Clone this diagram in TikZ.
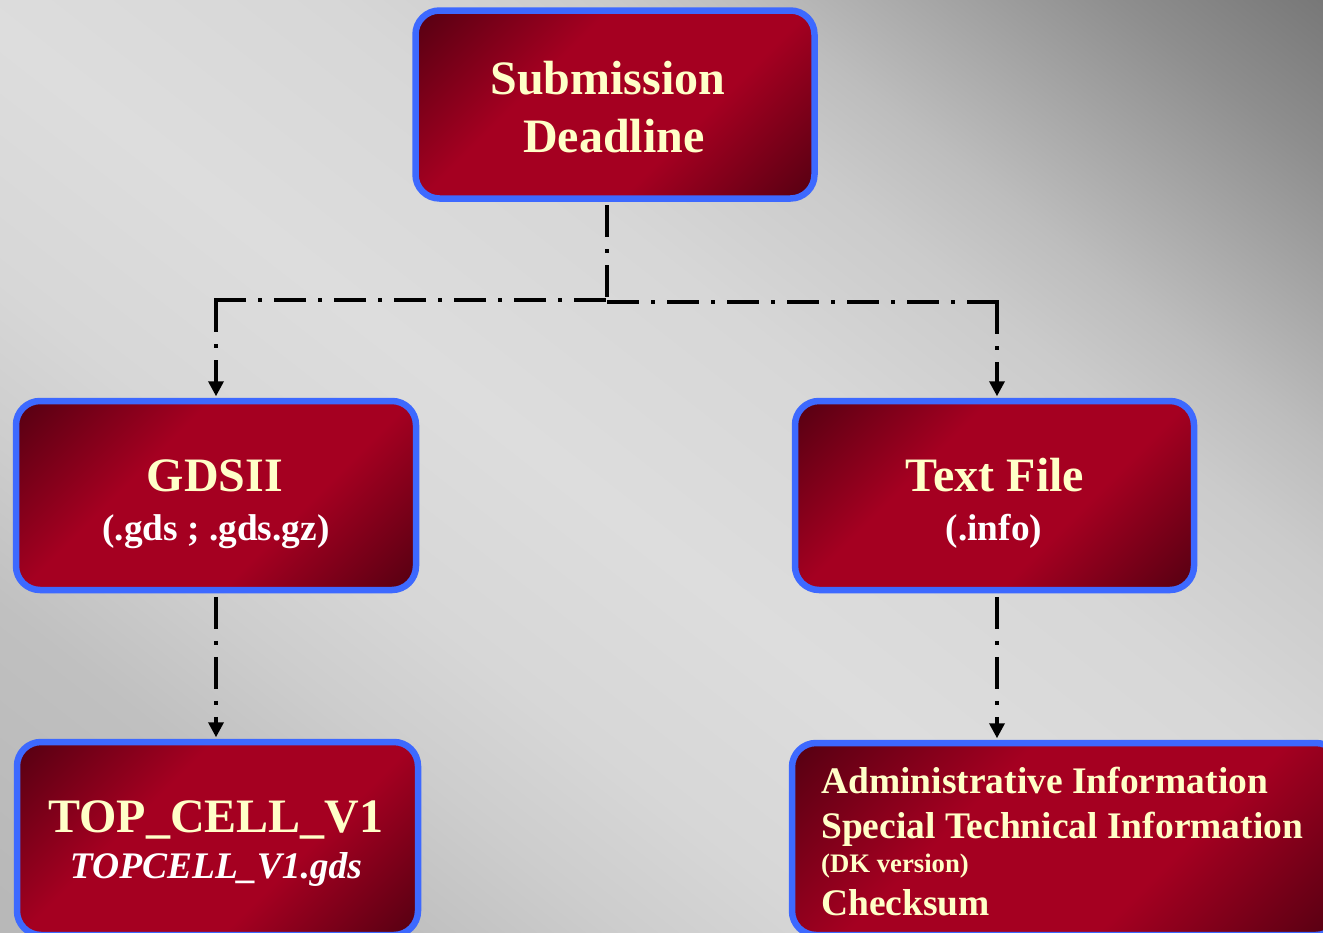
\documentclass[tikz,border=0pt]{standalone}
\usepackage{fontspec}
\setmainfont{Liberation Serif}
\usetikzlibrary{arrows.meta}
\definecolor{boxdk}{RGB}{86,0,18}
\definecolor{boxrd}{RGB}{165,0,33}
\definecolor{boxblue}{RGB}{61,105,255}
\definecolor{titlecol}{RGB}{255,255,200}
\definecolor{bgA}{RGB}{180,180,180}
\definecolor{bgB}{RGB}{184,184,184}
\definecolor{bgC}{RGB}{192,192,192}
\definecolor{bgM}{RGB}{205,205,205}
\definecolor{bgD}{RGB}{215,215,215}
\definecolor{bgE}{RGB}{221,221,221}
\definecolor{bgF}{RGB}{215,215,215}
\definecolor{bgG}{RGB}{203,203,203}
\definecolor{bgH}{RGB}{189,189,189}
\definecolor{bgI}{RGB}{169,169,169}
\definecolor{bgJ}{RGB}{142,142,142}
\definecolor{bgK}{RGB}{119,119,119}
\definecolor{bgL}{RGB}{105,105,105}
\pgfdeclarehorizontalshading{boxshade}{100bp}{color(0bp)=(boxdk); color(15bp)=(boxdk); color(38bp)=(boxrd); color(62bp)=(boxrd); color(85bp)=(boxdk); color(100bp)=(boxdk)}
\pgfdeclarehorizontalshading{bgshade}{100bp}{color(0bp)=(bgA); color(26.8bp)=(bgB); color(34bp)=(bgC); color(38bp)=(bgM); color(42bp)=(bgD); color(48bp)=(bgE); color(55bp)=(bgF); color(60bp)=(bgG); color(63bp)=(bgH); color(66bp)=(bgI); color(70bp)=(bgJ); color(74bp)=(bgK); color(100bp)=(bgL)}
\tikzset{
  boxnode/.style={draw=boxblue, line width=6.5pt, rounded corners=24pt, shading=boxshade, shading angle=-45, inner sep=0pt},
  titletext/.style={anchor=base, text=titlecol, inner sep=0pt, font=\bfseries\fontsize{48}{57}\selectfont},
  subtext/.style={anchor=base, text=white, inner sep=0pt, font=\bfseries\fontsize{37.3}{44}\selectfont},
  infotext/.style={anchor=base west, text=titlecol, inner sep=0pt, font=\bfseries\fontsize{37.5}{44}\selectfont},
  conn/.style={line width=3.5pt, dash pattern=on 32pt off 12pt on 4pt off 12pt},
  connarrow/.style={conn, -{Triangle[width=15pt,length=15pt]}}
}
\begin{document}
\begin{tikzpicture}[x=1pt,y=-1pt]
\useasboundingbox (0,0) rectangle (1323,932);
\clip (0,0) rectangle (1323,932);
\shade[shading=bgshade, shading angle=52] (-148.5,-344) rectangle (1471.5,1276);

% boxes
\node[boxnode, minimum width=399pt, minimum height=188pt] (top) at (615,104.5) {};
\node[boxnode, minimum width=400pt, minimum height=189pt] (gds) at (216,495.5) {};
\node[boxnode, minimum width=399pt, minimum height=189pt] (txt) at (994.5,495.5) {};
\node[boxnode, minimum width=401pt, minimum height=193pt] (cell) at (217.5,838.5) {};
\node[boxnode, minimum width=548pt, minimum height=192pt] (info) at (1066,839) {};

% junction coordinates
\coordinate (jc) at (607,300);
\coordinate (jl) at (214.25,300);
\coordinate (jlv) at (216,300);
\coordinate (jr) at (998.75,302);
\coordinate (jrv) at (997,302);
\coordinate (jcr) at (605,302);

% connectors
\draw[conn] ([xshift=-8pt,yshift=-3.5pt]top.south) -- (jc);
\draw[conn] (jl) -- (jc);
\draw[conn] (jr) -- (jcr);
\draw[connarrow] (jlv) -- ([yshift=1.5pt]gds.north);
\draw[connarrow] (jrv) -- ([xshift=2.5pt,yshift=1.5pt]txt.north);
\draw[connarrow] ([yshift=-3.5pt]gds.south) -- ([xshift=-1.5pt,yshift=1.5pt]cell.north);
\draw[connarrow] ([xshift=2.5pt,yshift=-3.5pt]txt.south) -- ([xshift=-69pt,yshift=1.5pt]info.north);

% texts
\node[titletext] (t1) at (608,94) {Submission};
\node[titletext] (t2) at (614,152) {Deadline};
\node[titletext] (g1) at (215,491) {GDSII};
\node[subtext] (g2) at (216,540) {(.gds ; .gds.gz)};
\node[titletext] (f1) at (995,491) {Text File};
\node[subtext] (f2) at (994,540) {(.info)};
\node[titletext] (c1) at (216,832) {TOP\_CELL\_V1};
\node[subtext, font=\bfseries\itshape\fontsize{37.5}{44}\selectfont] (c2) at (216,878) {TOPCELL\_V1.gds};
\node[infotext] (i1) at (821,793) {Administrative Information};
\node[infotext] (i2) at (821,838) {Special Technical Information};
\node[infotext, font=\bfseries\fontsize{26.7}{32}\selectfont] (i3) at (821,872) {(DK version)};
\node[infotext] (i4) at (821,915) {Checksum};
\end{tikzpicture}
\end{document}
